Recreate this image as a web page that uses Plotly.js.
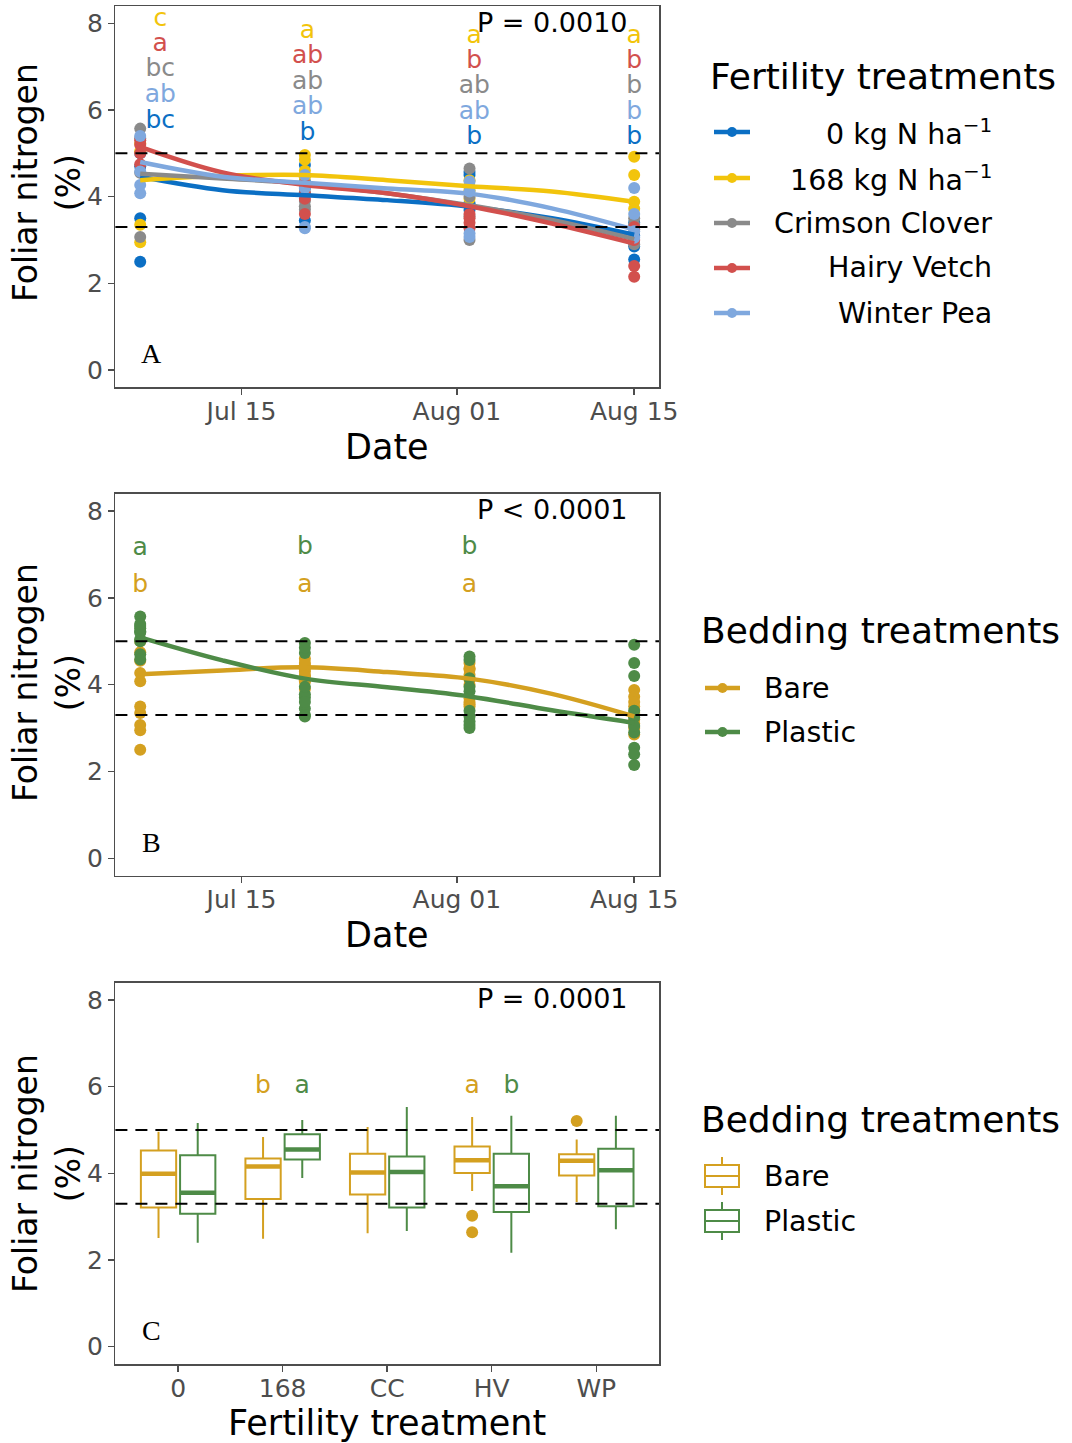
<!DOCTYPE html>
<html><head><meta charset="utf-8">
<script src="https://cdn.plot.ly/plotly-3.0.1.min.js"></script>
<style>html,body{margin:0;padding:0;background:#fff}#chart{width:1072px;height:1443px}</style>
</head><body><div id="chart"></div>
<script>
// ---------------- DATA ----------------
const sampleDates = ['2020-07-07', '2020-07-20', '2020-08-02', '2020-08-15'];
const tickDates = ['2020-07-15', '2020-08-01', '2020-08-15'];
const tickDateLabels = ['Jul 15', 'Aug 01', 'Aug 15'];
const fertCodes = ['0', '168', 'CC', 'HV', 'WP'];
const fertNames = ['0 kg N ha<sup>−1</sup>', '168 kg N ha<sup>−1</sup>', 'Crimson Clover', 'Hairy Vetch', 'Winter Pea'];
const bedNames = ['Bare', 'Plastic'];

// foliar N (%), two plots per date (Jul 7, Jul 20, Aug 2, Aug 15)
const n0Bare      = [2.50, 3.50, 4.20, 4.35, 4.50, 3.69, 3.10, 2.85];
const n0Plastic   = [4.70, 5.00, 3.45, 4.73, 4.57, 3.85, 2.55, 3.40];
const n168Bare    = [2.95, 3.35, 4.60, 4.45, 4.38, 4.23, 3.88, 3.72];
const n168Plastic = [5.05, 5.23, 4.96, 4.85, 4.15, 3.95, 4.92, 4.50];
const ccBare      = [3.07, 4.55, 3.90, 4.10, 4.00, 3.55, 3.50, 3.35];
const ccPlastic   = [5.57, 5.35, 3.70, 3.78, 4.65, 3.00, 3.25, 2.90];
const hvBare      = [4.75, 5.00, 4.07, 4.30, 3.60, 3.50, 3.30, 3.00];
const hvPlastic   = [5.20, 5.30, 3.95, 3.60, 3.27, 3.40, 2.40, 2.15];
const wpBare      = [4.08, 4.27, 4.50, 4.20, 4.35, 4.12, 3.60, 3.20];
const wpPlastic   = [4.58, 5.40, 3.30, 3.27, 3.07, 3.15, 4.20, 3.05];

// smoothed trends
const curveDates = ['2020-07-07', '2020-07-13 12:00', '2020-07-20', '2020-07-26 12:00', '2020-08-02', '2020-08-08 12:00', '2020-08-15'];
const fit0   = [4.46, 4.15, 4.03, 3.92, 3.77, 3.50, 3.12];
const fit168 = [4.38, 4.48, 4.50, 4.38, 4.24, 4.12, 3.88];
const fitCC  = [4.53, 4.42, 4.30, 4.08, 3.80, 3.46, 3.02];
const fitHV  = [5.15, 4.56, 4.27, 4.08, 3.78, 3.38, 2.92];
const fitWP  = [4.80, 4.46, 4.32, 4.19, 4.07, 3.73, 3.24];
const fitBare    = [4.24, 4.33, 4.40, 4.29, 4.14, 3.79, 3.27];
const fitPlastic = [5.09, 4.56, 4.14, 3.94, 3.73, 3.41, 3.12];

// mean separation letters, panel A
const letterDatesA = ['2020-07-08 14:00', '2020-07-20 05:00', '2020-08-02 09:00', '2020-08-15'];
const letters0   = ['bc', 'b', 'b', 'b'];
const letters168 = ['c', 'a', 'a', 'a'];
const lettersCC  = ['bc', 'ab', 'ab', 'b'];
const lettersHV  = ['a', 'ab', 'b', 'b'];
const lettersWP  = ['ab', 'ab', 'ab', 'b'];
const letterY0   = [5.73, 5.46, 5.35, 5.35];
const letterY168 = [8.08, 7.81, 7.69, 7.69];
const letterYCC  = [6.92, 6.64, 6.53, 6.53];
const letterYHV  = [7.50, 7.23, 7.12, 7.12];
const letterYWP  = [6.32, 6.06, 5.94, 5.94];

// panel B letters
const letterDatesB = ['2020-07-07', '2020-07-20', '2020-08-02'];
const lettersBare = ['b', 'a', 'a'];
const lettersPlastic = ['a', 'b', 'b'];
const letterYBare = [6.28, 6.28, 6.28];
const letterYPlastic = [7.13, 7.16, 7.16];

// panel C box statistics by fertility treatment
const bareQ1 = [3.21, 3.41, 3.51, 4.01, 3.95];
const bareMed = [3.99, 4.16, 4.02, 4.30, 4.29];
const bareQ3 = [4.53, 4.34, 4.45, 4.62, 4.44];
const bareLo = [2.51, 2.49, 2.62, 3.59, 3.34];
const bareHi = [4.96, 4.84, 5.07, 5.30, 4.78];
const plasticQ1 = [3.07, 4.32, 3.21, 3.11, 3.24];
const plasticMed = [3.55, 4.55, 4.03, 3.70, 4.07];
const plasticQ3 = [4.42, 4.90, 4.39, 4.45, 4.57];
const plasticLo = [2.40, 3.89, 2.67, 2.17, 2.71];
const plasticHi = [5.16, 5.23, 5.53, 5.33, 5.33];
const outlierCat = ['HV', 'HV', 'WP'];
const outlierVal = [3.02, 2.64, 5.21];
const letterCatC = ['168', '168', 'HV', 'HV'];
const letterBedC = ['Bare', 'Plastic', 'Bare', 'Plastic'];
const lettersC = ['b', 'a', 'a', 'b'];
const letterYC = [6.0, 6.0, 6.0, 6.0];

const refLines = [3.3, 5.0];
const pTexts = ['P = 0.0010', 'P < 0.0001', 'P = 0.0001'];
const panelTags = ['A', 'B', 'C'];

// ---------------- STYLE ----------------
const W = 1072, H = 1443;
const FONT = 'DejaVu Sans', SERIF = 'Liberation Serif';
const fertColors = ['#0B6FC4', '#F2C40C', '#8A8A8A', '#D2504D', '#7FA8DE'];
const bedColors = ['#D4A020', '#4E8B47'];
const px = x => x / W, py = y => 1 - y / H;
const XD = [px(115.4), px(659)];
const YD = [[py(387.3), py(6)], [py(875.7), py(493.7)], [py(1364), py(982.7)]];
const dodge = { Bare: -0.1875, Plastic: 0.1875 };
const halfBox = 0.169;
const MSIZE = 12;

const rd = sampleDates.flatMap(d => [d, d]);
const fertBare = [n0Bare, n168Bare, ccBare, hvBare, wpBare];
const fertPlastic = [n0Plastic, n168Plastic, ccPlastic, hvPlastic, wpPlastic];
const fits = [fit0, fit168, fitCC, fitHV, fitWP];
const fertLetters = [letters0, letters168, lettersCC, lettersHV, lettersWP];
const fertLetterY = [letterY0, letterY168, letterYCC, letterYHV, letterYWP];

const traces = [];
// Panel A points
fertCodes.forEach((c, i) => {
  traces.push({ type: 'scatter', mode: 'markers', xaxis: 'x', yaxis: 'y', showlegend: false,
    x: rd.concat(rd), y: fertBare[i].concat(fertPlastic[i]),
    marker: { size: MSIZE, color: fertColors[i] }, hoverinfo: 'skip' });
});
fertCodes.forEach((c, i) => {
  traces.push({ type: 'scatter', mode: 'lines', xaxis: 'x', yaxis: 'y', showlegend: false,
    x: curveDates, y: fits[i], line: { shape: 'spline', smoothing: 1, width: 4.5, color: fertColors[i] } });
});
[1, 3, 2, 4, 0].forEach(i => {
  traces.push({ type: 'scatter', mode: 'text', xaxis: 'x', yaxis: 'y', showlegend: false,
    x: letterDatesA, y: fertLetterY[i], text: fertLetters[i], textposition: 'middle center',
    textfont: { family: FONT, size: 25, color: fertColors[i] } });
});
// Panel B
const bedPoints = [fertBare.flat(), fertPlastic.flat()];
const bedX = fertCodes.flatMap(() => rd);
bedNames.forEach((b, j) => {
  traces.push({ type: 'scatter', mode: 'markers', xaxis: 'x2', yaxis: 'y2', showlegend: false,
    x: bedX, y: bedPoints[j], marker: { size: MSIZE, color: bedColors[j] } });
});
[fitBare, fitPlastic].forEach((f, j) => {
  traces.push({ type: 'scatter', mode: 'lines', xaxis: 'x2', yaxis: 'y2', showlegend: false,
    x: curveDates, y: f, line: { shape: 'spline', smoothing: 1, width: 4.5, color: bedColors[j] } });
});
[[lettersBare, letterYBare], [lettersPlastic, letterYPlastic]].forEach((L, j) => {
  traces.push({ type: 'scatter', mode: 'text', xaxis: 'x2', yaxis: 'y2', showlegend: false,
    x: letterDatesB, y: L[1], text: L[0], textposition: 'middle center',
    textfont: { family: FONT, size: 25, color: bedColors[j] } });
});
// Panel C boxes
const boxStats = [[bareQ1, bareMed, bareQ3, bareLo, bareHi], [plasticQ1, plasticMed, plasticQ3, plasticLo, plasticHi]];
bedNames.forEach((b, j) => {
  const s = boxStats[j];
  traces.push({ type: 'box', xaxis: 'x3', yaxis: 'y3', name: b, showlegend: false,
    x: fertCodes, q1: s[0], median: s[1], q3: s[2], lowerfence: s[3], upperfence: s[4],
    boxpoints: false, whiskerwidth: 0, fillcolor: 'rgba(255,255,255,0)',
    line: { color: bedColors[j], width: 2 } });
});
bedNames.forEach((b, j) => {
  const xs = [], ys = [];
  fertCodes.forEach((c, i) => {
    const cx = i + dodge[b];
    xs.push(cx - halfBox, cx + halfBox, null);
    ys.push(boxStats[j][1][i], boxStats[j][1][i], null);
  });
  traces.push({ type: 'scatter', mode: 'lines', xaxis: 'x4', yaxis: 'y3', showlegend: false,
    x: xs, y: ys, line: { color: bedColors[j], width: 4.5 } });
});
traces.push({ type: 'scatter', mode: 'markers', xaxis: 'x4', yaxis: 'y3', showlegend: false,
  x: outlierCat.map(c => fertCodes.indexOf(c) + dodge.Bare), y: outlierVal,
  marker: { size: MSIZE, color: bedColors[0] } });
traces.push({ type: 'scatter', mode: 'text', xaxis: 'x4', yaxis: 'y3', showlegend: false,
  x: letterCatC.map((c, k) => fertCodes.indexOf(c) + dodge[letterBedC[k]]), y: letterYC,
  text: lettersC, textposition: 'middle center',
  textfont: { family: FONT, size: 25, color: letterBedC.map(b => bedColors[bedNames.indexOf(b)]) } });

// ---------------- LAYOUT ----------------
const axisCommon = { showgrid: false, zeroline: false, showline: true, mirror: true,
  linecolor: '#4d4d4d', linewidth: 1.5, ticks: 'outside', ticklen: 6, tickwidth: 1.5, tickcolor: '#4d4d4d',
  tickfont: { family: FONT, size: 25, color: '#4d4d4d' } };
const yAxis = (k) => Object.assign({}, axisCommon, { domain: YD[k], anchor: k === 0 ? 'x' : 'x' + (k + 1),
  range: [-0.4, 8.4], tickvals: [0, 2, 4, 6, 8] });
const xCommon = Object.assign({}, axisCommon, { domain: XD, ticklabelstandoff: -5 });
const dateRange = ['2020-07-05 01:00', '2020-08-16 23:00'];
const layout = {
  width: W, height: H, margin: { l: 0, r: 0, t: 0, b: 0 }, paper_bgcolor: '#fff', plot_bgcolor: '#fff',
  showlegend: false, boxmode: 'group', boxgap: 0.25, boxgroupgap: 0.1,
  font: { family: FONT },
  xaxis: Object.assign({}, xCommon, { anchor: 'y', type: 'date', range: dateRange, tickvals: tickDates, ticktext: tickDateLabels }),
  xaxis2: Object.assign({}, xCommon, { anchor: 'y2', type: 'date', range: dateRange, tickvals: tickDates, ticktext: tickDateLabels }),
  xaxis3: Object.assign({}, xCommon, { anchor: 'y3', type: 'category', categoryorder: 'array', categoryarray: fertCodes, range: [-0.6, 4.6] }),
  xaxis4: { overlaying: 'x3', anchor: 'y3', range: [-0.6, 4.6], visible: false, type: 'linear' },
  yaxis: yAxis(0), yaxis2: yAxis(1), yaxis3: yAxis(2),
  shapes: [], annotations: []
};
const yrefs = ['y', 'y2', 'y3'], xrefs = ['x', 'x2', 'x3'];
yrefs.forEach((yr, k) => {
  refLines.forEach(v => layout.shapes.push({ type: 'line', xref: xrefs[k] + ' domain', x0: 0, x1: 1, yref: yr, y0: v, y1: v,
    line: { color: '#000', width: 2, dash: '12px,8px' }, layer: 'above' }));
  layout.annotations.push({ text: pTexts[k], xref: xrefs[k] + ' domain', yref: yr + ' domain', x: 0.9467, y: 0.958,
    xanchor: 'right', yanchor: 'middle', showarrow: false, font: { family: FONT, size: 27, color: '#000' } });
  layout.annotations.push({ text: panelTags[k], xref: xrefs[k] + ' domain', yref: yr + ' domain', x: 0.0655, y: 0.088,
    xanchor: 'center', yanchor: 'middle', showarrow: false, font: { family: SERIF, size: 28, color: '#000' } });
});
// axis titles
[183, 683, 1174].forEach(yc => layout.annotations.push({ text: 'Foliar nitrogen<br>(%)', xref: 'paper', yref: 'paper',
  x: px(47), y: py(yc), xanchor: 'center', yanchor: 'middle', textangle: -90, showarrow: false,
  font: { family: FONT, size: 33, color: '#000' } }));
[['Date', 447], ['Date', 935], ['Fertility treatment', 1423]].forEach(t => layout.annotations.push({ text: t[0],
  xref: 'paper', yref: 'paper', x: px(387), y: py(t[1]), xanchor: 'center', yanchor: 'middle', showarrow: false,
  font: { family: FONT, size: 35, color: '#000' } }));
// legends
const legTitle = (txt, x, y) => layout.annotations.push({ text: txt, xref: 'paper', yref: 'paper', x: px(x), y: py(y),
  xanchor: 'left', yanchor: 'middle', showarrow: false, font: { family: FONT, size: 36, color: '#000' } });
legTitle('Fertility treatments', 708, 77);
[132, 178, 223, 268, 313].forEach((yy, i) => {
  layout.shapes.push({ type: 'line', xref: 'paper', yref: 'paper', x0: px(714), x1: px(750), y0: py(yy), y1: py(yy),
    line: { color: fertColors[i], width: 4.5 } });
  layout.shapes.push({ type: 'circle', xref: 'paper', yref: 'paper', x0: px(727), x1: px(737), y0: py(yy + 5), y1: py(yy - 5),
    fillcolor: fertColors[i], line: { width: 0 } });
  layout.annotations.push({ text: fertNames[i], xref: 'paper', yref: 'paper', x: px(994), y: py(yy), xanchor: 'right',
    yanchor: 'middle', showarrow: false, font: { family: FONT, size: 28.5, color: '#000' } });
});
legTitle('Bedding treatments', 699, 630);
[688, 732].forEach((yy, j) => {
  layout.shapes.push({ type: 'line', xref: 'paper', yref: 'paper', x0: px(705), x1: px(740), y0: py(yy), y1: py(yy),
    line: { color: bedColors[j], width: 4.5 } });
  layout.shapes.push({ type: 'circle', xref: 'paper', yref: 'paper', x0: px(717.5), x1: px(727.5), y0: py(yy + 5), y1: py(yy - 5),
    fillcolor: bedColors[j], line: { width: 0 } });
  layout.annotations.push({ text: bedNames[j], xref: 'paper', yref: 'paper', x: px(762), y: py(yy), xanchor: 'left',
    yanchor: 'middle', showarrow: false, font: { family: FONT, size: 28.5, color: '#000' } });
});
legTitle('Bedding treatments', 699, 1119);
[1176, 1221].forEach((yy, j) => {
  const c = bedColors[j];
  layout.shapes.push({ type: 'rect', xref: 'paper', yref: 'paper', x0: px(705), x1: px(739), y0: py(yy + 11), y1: py(yy - 11),
    line: { color: c, width: 2 }, fillcolor: 'rgba(0,0,0,0)' });
  layout.shapes.push({ type: 'line', xref: 'paper', yref: 'paper', x0: px(705), x1: px(739), y0: py(yy), y1: py(yy), line: { color: c, width: 2 } });
  layout.shapes.push({ type: 'line', xref: 'paper', yref: 'paper', x0: px(722), x1: px(722), y0: py(yy - 11), y1: py(yy - 19), line: { color: c, width: 2 } });
  layout.shapes.push({ type: 'line', xref: 'paper', yref: 'paper', x0: px(722), x1: px(722), y0: py(yy + 11), y1: py(yy + 19), line: { color: c, width: 2 } });
  layout.annotations.push({ text: bedNames[j], xref: 'paper', yref: 'paper', x: px(762), y: py(yy), xanchor: 'left',
    yanchor: 'middle', showarrow: false, font: { family: FONT, size: 28.5, color: '#000' } });
});

Plotly.newPlot('chart', traces, layout, { displayModeBar: false, staticPlot: true });
</script></body></html>
